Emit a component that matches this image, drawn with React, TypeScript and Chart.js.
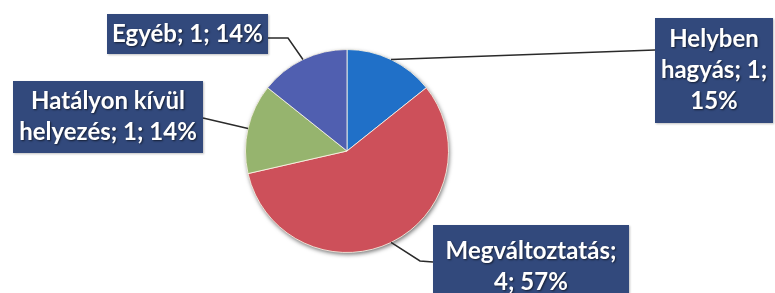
import React, { useEffect, useRef } from "react";
import { Chart, registerables } from "chart.js";

Chart.register(...registerables);

const categories = ["Helyben hagyás", "Megváltoztatás", "Hatályon kívül helyezés", "Egyéb"];
const values = [1, 4, 1, 1];
const percentLabels = ["15%", "57%", "14%", "14%"];
const sliceColors = ["#2070c8", "#cd505a", "#96b46e", "#505fb0"];

// layout of the callout boxes (x, y, w, h), text wrap width and leader-line bends
const boxLayout = [
  { x: 655, y: 18, w: 118, h: 105, wrapW: 120, attach: [655, 50], bend: null as null | number[] },
  { x: 433, y: 225, w: 196, h: 76, wrapW: 184, attach: [433, 262], bend: [420, 261] },
  { x: 13, y: 81, w: 190, h: 72, wrapW: 190, attach: [203, 118], bend: null },
  { x: 107, y: 14, w: 161, h: 40, wrapW: 165, attach: [268, 38], bend: [288, 38] },
];

const FONT = "bold 24px Lato, 'Liberation Sans', sans-serif";
const LINE_H = 31;

function wrap(ctx: CanvasRenderingContext2D, text: string, maxW: number): string[] {
  const words = text.split(" ");
  const lines: string[] = [];
  let cur = "";
  for (const w of words) {
    const t = cur ? cur + " " + w : w;
    if (cur && ctx.measureText(t).width > maxW) {
      lines.push(cur);
      cur = w;
    } else cur = t;
  }
  if (cur) lines.push(cur);
  return lines;
}

const shadowPlugin = {
  id: "pieShadow",
  beforeDatasetsDraw(chart: any) {
    const meta = chart.getDatasetMeta(0);
    if (!meta.data.length) return;
    const a = meta.data[0].getProps(["x", "y", "outerRadius"], true);
    const ctx = chart.ctx;
    ctx.save();
    ctx.shadowColor = "rgba(0,0,0,0.55)";
    ctx.shadowBlur = 4;
    ctx.shadowOffsetX = 1;
    ctx.shadowOffsetY = 2;
    ctx.beginPath();
    ctx.arc(a.x, a.y, a.outerRadius, 0, Math.PI * 2);
    ctx.fillStyle = "#888";
    ctx.fill();
    ctx.restore();
  },
};

const calloutPlugin = {
  id: "callouts",
  afterDatasetsDraw(chart: any) {
    const meta = chart.getDatasetMeta(0);
    const ctx: CanvasRenderingContext2D = chart.ctx;
    meta.data.forEach((arc: any, i: number) => {
      const p = arc.getProps(["x", "y", "startAngle", "endAngle", "outerRadius"], true);
      const mid = (p.startAngle + p.endAngle) / 2;
      const px = p.x + Math.cos(mid) * p.outerRadius;
      const py = p.y + Math.sin(mid) * p.outerRadius;
      const b = boxLayout[i];
      ctx.save();
      ctx.strokeStyle = "#2a2a2a";
      ctx.lineWidth = 1.5;
      ctx.beginPath();
      ctx.moveTo(px, py);
      if (b.bend) ctx.lineTo(b.bend[0], b.bend[1]);
      ctx.lineTo(b.attach[0], b.attach[1]);
      ctx.stroke();

      ctx.shadowColor = "rgba(0,0,0,0.25)";
      ctx.shadowBlur = 2;
      ctx.shadowOffsetX = 1;
      ctx.shadowOffsetY = 1;
      ctx.fillStyle = "#32497c";
      ctx.fillRect(b.x, b.y, b.w, b.h);
      ctx.shadowColor = "transparent";

      ctx.font = FONT;
      const text = `${categories[i]}; ${values[i]}; ${percentLabels[i]}`;
      const lines = wrap(ctx, text, b.wrapW);
      ctx.fillStyle = "#ffffff";
      ctx.textAlign = "center";
      ctx.textBaseline = "middle";
      ctx.shadowColor = "rgba(0,0,0,0.6)";
      ctx.shadowBlur = 2;
      ctx.shadowOffsetX = 1;
      ctx.shadowOffsetY = 1;
      const cy = b.y + b.h / 2;
      const top = i === 1 ? b.y + 26 : cy - ((lines.length - 1) * LINE_H) / 2;
      lines.forEach((l, k) => ctx.fillText(l, b.x + b.w / 2, top + k * LINE_H));
      ctx.restore();
    });
  },
};

export default function App() {
  const ref = useRef<HTMLCanvasElement>(null);
  useEffect(() => {
    document.body.style.margin = "0";
    document.body.style.overflow = "hidden";
    const chart = new Chart(ref.current!, {
      type: "pie",
      data: {
        labels: categories,
        datasets: [
          {
            data: values,
            backgroundColor: sliceColors,
            borderColor: "rgba(255,250,235,0.8)",
            borderWidth: 1,
          },
        ],
      },
      options: {
        responsive: false,
        animation: false,
        layout: { padding: { left: 245, right: 326, top: 49, bottom: 40 } },
        plugins: { legend: { display: false }, tooltip: { enabled: false } },
      },
      plugins: [shadowPlugin, calloutPlugin],
    });
    return () => chart.destroy();
  }, []);
  return (
    <div style={{ width: 775, height: 293, background: "#fff" }}>
      <canvas ref={ref} width={775} height={293} style={{ display: "block" }} />
    </div>
  );
}
